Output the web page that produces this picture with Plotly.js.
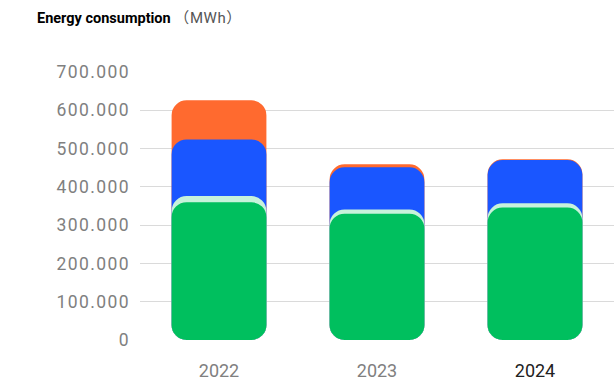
<!DOCTYPE html>
<html>
<head>
<meta charset="utf-8">
<script src="https://cdn.plot.ly/plotly-3.0.1.min.js"></script>
<style>html,body{margin:0;padding:0;background:#fff;}#chart{width:614px;height:381px;}</style>
</head>
<body>
<div id="chart"></div>
<script>
// Data (MWh), segment values per year
const years = ['2022', '2023', '2024'];
const green = [360000, 330000, 346000];
const lightGreen = [16000, 11000, 11000];
const blue = [148000, 110000, 113000];
const orange = [102000, 8000, 2000];
const yTickVals = [0, 100000, 200000, 300000, 400000, 500000, 600000, 700000];
const yTickLabels = ['0', '100.000', '200.000', '300.000', '400.000', '500.000', '600.000', '700.000'];
const xTickText = ['2022', '2023', '<span style="color:#222">2024</span>'];

const colors = {orange: '#FF6A2F', blue: '#1A56FF', lightGreen: '#C7F2DB', green: '#00BF5E'};

// cumulative tops
const cGreen = green.map(v => v);
const cLight = cGreen.map((v, i) => v + lightGreen[i]);
const cBlue = cLight.map((v, i) => v + blue[i]);
const cOrange = cBlue.map((v, i) => v + orange[i]);

const layers = [
  {tops: cOrange, color: colors.orange, name: 'Orange'},
  {tops: cBlue, color: colors.blue, name: 'Blue'},
  {tops: cLight, color: colors.lightGreen, name: 'Light green'},
  {tops: cGreen, color: colors.green, name: 'Green'}
];

// each layer is a fully rounded bar from 0 to its cumulative top (base given => all corners rounded)
const traces = layers.map(l => ({
  type: 'bar', x: years, base: years.map(() => 0), y: l.tops, width: 0.6,
  marker: {color: l.color, cornerradius: 15, line: {width: 0}},
  name: l.name, showlegend: false, hoverinfo: 'skip'
}));

const layout = {
  width: 614, height: 381,
  margin: {l: 140, r: 0, t: 72, b: 41},
  paper_bgcolor: '#fff', plot_bgcolor: '#fff',
  barmode: 'overlay',
  font: {family: 'Roboto, "Noto Sans CJK SC", sans-serif'},
  title: {
    text: '<b>Energy consumption</b> <span style="color:#555;font-weight:normal;font-size:15px;letter-spacing:0.6px">（MWh）</span>',
    font: {size: 14.5, color: '#000', family: 'Roboto, "Noto Sans CJK SC", sans-serif'},
    x: 37 / 614, xanchor: 'left', xref: 'container', y: 1 - 18 / 381, yanchor: 'middle', yref: 'container'
  },
  xaxis: {
    type: 'category', tickvals: years, ticktext: xTickText,
    tickfont: {size: 18, color: '#808080'},
    showgrid: false, zeroline: false, showline: false, ticks: '',
    ticklabelstandoff: 18
  },
  yaxis: {
    range: [0, 700000], tickvals: yTickVals,
    ticktext: yTickLabels.map(t => '<span style="letter-spacing:1.4px">' + t + '</span>'),
    tickfont: {size: 17.5, color: '#808080'},
    showgrid: true, gridcolor: '#DADADA', gridwidth: 1,
    zeroline: false, showline: false, ticks: '', ticklabelstandoff: 9
  }
};

Plotly.newPlot('chart', traces, layout, {displayModeBar: false, staticPlot: true});
</script>
</body>
</html>
